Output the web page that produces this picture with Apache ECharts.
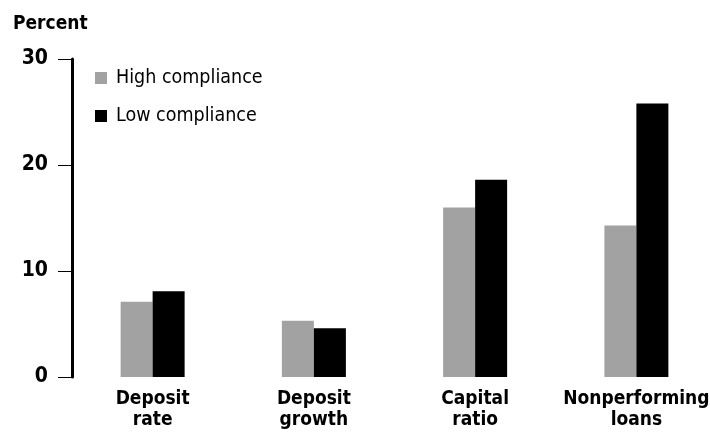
<!DOCTYPE html>
<html>
<head>
<meta charset="utf-8">
<script src="https://cdn.jsdelivr.net/npm/echarts@6/dist/echarts.min.js"></script>
<style>
  html, body { margin: 0; padding: 0; background: #fff; }
  #chart { width: 710px; height: 432px; }
</style>
</head>
<body>
<div id="chart"></div>
<script>
const categories = ['Deposit\nrate', 'Deposit\ngrowth', 'Capital\nratio', 'Nonperforming\nloans'];
const highCompliance = [7.1, 5.3, 16.0, 14.3];
const lowCompliance = [8.1, 4.6, 18.6, 25.8];
const yTicks = [0, 10, 20, 30];

const labelFont = "'DejaVu Sans Condensed', 'Liberation Sans Narrow', sans-serif";

const chart = echarts.init(document.getElementById('chart'));

chart.setOption({
    animation: false,
    title: {
        text: 'Percent',
        left: 8,
        top: 10,
        textStyle: { fontFamily: labelFont, fontWeight: 'bold', fontSize: 19, color: '#000' }
    },
    legend: {
        orient: 'vertical',
        left: 90,
        top: 63,
        itemWidth: 12,
        itemHeight: 12,
        itemGap: 18,
        icon: 'rect',
        textStyle: { fontFamily: labelFont, fontSize: 19.5, color: '#000', padding: [0, 0, 0, 4] },
        data: ['High compliance', 'Low compliance']
    },
    grid: { left: 72, top: 59, width: 645, height: 318, outerBoundsMode: 'none' },
    xAxis: {
        type: 'category',
        data: categories,
        axisLine: { show: false },
        axisTick: { show: false },
        axisLabel: {
            margin: 12,
            fontFamily: labelFont,
            fontWeight: 'bold',
            fontSize: 19,
            lineHeight: 21,
            color: '#000',
            interval: 0
        }
    },
    yAxis: {
        type: 'value',
        min: 0,
        max: yTicks[yTicks.length - 1],
        interval: 10,
        splitLine: { show: false },
        axisLine: { show: true, lineStyle: { color: '#000', width: 3 } },
        axisTick: { show: true, inside: false, length: 14, lineStyle: { color: '#000', width: 1 } },
        axisLabel: {
            margin: 24,
            fontFamily: labelFont,
            fontWeight: 'bold',
            fontSize: 21,
            color: '#000'
        }
    },
    series: [
        {
            name: 'High compliance',
            type: 'bar',
            data: highCompliance,
            barWidth: 32,
            barGap: '0%',
            itemStyle: { color: '#a2a2a2' }
        },
        {
            name: 'Low compliance',
            type: 'bar',
            data: lowCompliance,
            barWidth: 32,
            barGap: '0%',
            itemStyle: { color: '#000' }
        }
    ]
});
</script>
</body>
</html>
